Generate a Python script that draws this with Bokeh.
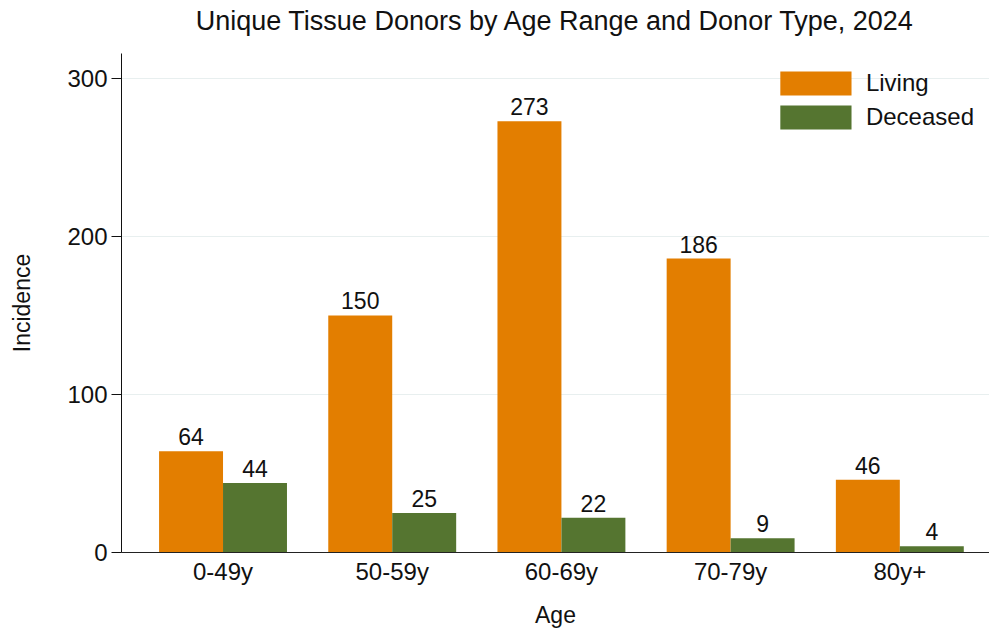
import numpy as np
from bokeh.plotting import figure
from bokeh.models import ColumnDataSource, Range1d, FixedTicker, Legend, LegendItem, Title
from bokeh.core.properties import value
from bokeh.embed import file_html
from bokeh.resources import INLINE

ages = ["0-49y", "50-59y", "60-69y", "70-79y", "80y+"]
living = [64, 150, 273, 186, 46]
deceased = [44, 25, 22, 9, 4]
y_ticks = [0, 100, 200, 300]
title_text = "Unique Tissue Donors by Age Range and Donor Type, 2024"

FONT = "Liberation Sans"
ORANGE = "#E37E00"
GREEN = "#557530"

idx = np.arange(len(ages))
bw = 0.378

src_l = ColumnDataSource(dict(x=idx - bw / 2, top=living, lab=[str(v) for v in living]))
src_d = ColumnDataSource(dict(x=idx + bw / 2, top=deceased, lab=[str(v) for v in deceased]))

p = figure(width=989, height=634, output_backend="svg", toolbar_location=None,
           x_range=Range1d(-0.6, 4.53), y_range=Range1d(0, 315.8), title=title_text,
           min_border_left=121, min_border_top=52, min_border_bottom=82, min_border_right=0)

p.outline_line_color = None
p.background_fill_color = "white"
p.title.align = "center"
p.title.vertical_align = "top"
p.title.text_font = FONT
p.title.text_font_size = "27px"
p.title.text_font_style = "normal"
p.title.text_color = "#111111"
p.title.standoff = 10
p.title.offset = 4

# thin spacer panel between the title and the plot area
p.add_layout(Title(text=" ", text_font_size="2px", standoff=7), "above")

r1 = p.vbar(x="x", top="top", width=bw, source=src_l, fill_color=ORANGE, line_color=None)
r2 = p.vbar(x="x", top="top", width=bw, source=src_d, fill_color=GREEN, line_color=None)

for s in (src_l, src_d):
    p.text(x="x", y="top", text="lab", source=s, text_align="center", text_baseline="bottom",
           y_offset=-6, text_font=value(FONT), text_font_size="23px", text_color="#111111")

# axes
p.xaxis.ticker = FixedTicker(ticks=list(idx))
p.xaxis.major_label_overrides = {int(i): a for i, a in zip(idx, ages)}
p.xaxis.major_tick_line_color = None
p.xaxis.minor_tick_line_color = None
p.xaxis.major_label_standoff = -1
p.xaxis.axis_label = "Age"
p.xaxis.axis_label_standoff = 14
p.xaxis.axis_line_color = "#222222"

p.yaxis.ticker = FixedTicker(ticks=y_ticks)
p.yaxis.minor_tick_line_color = None
p.yaxis.major_tick_out = 10
p.yaxis.major_tick_in = 0
p.yaxis.major_label_standoff = 4
p.yaxis.axis_label = "Incidence"
p.yaxis.axis_label_standoff = 29
p.yaxis.axis_line_color = "#111111"
p.yaxis.major_tick_line_color = "#111111"

for ax in (p.xaxis, p.yaxis):
    ax.major_label_text_font = FONT
    ax.major_label_text_font_size = "24px"
    ax.major_label_text_color = "#111111"
    ax.axis_label_text_font = FONT
    ax.axis_label_text_font_size = "23px"
    ax.axis_label_text_font_style = "normal"
    ax.axis_label_text_color = "#111111"

p.xgrid.grid_line_color = None
p.ygrid.ticker = FixedTicker(ticks=y_ticks[1:])
p.ygrid.grid_line_color = "#e8efef"

legend = Legend(items=[LegendItem(label="Living", renderers=[r1]),
                       LegendItem(label="Deceased", renderers=[r2])],
                location="top_right")
legend.border_line_color = None
legend.background_fill_alpha = 0
legend.glyph_width = 89
legend.glyph_height = 30
legend.label_text_font = FONT
legend.label_text_font_size = "24px"
legend.label_text_color = "#111111"
legend.label_standoff = 6
legend.spacing = 4
legend.margin = 15
legend.padding = 7
p.add_layout(legend)

open("out.html", "w").write(file_html(p, INLINE))
